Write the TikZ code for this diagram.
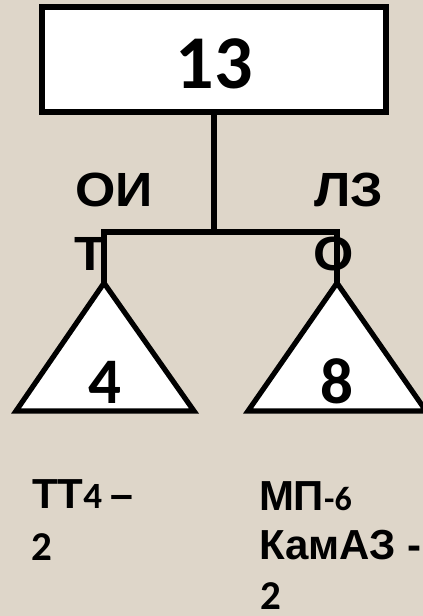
\documentclass[tikz,border=0pt]{standalone}
\usepackage{fontspec}
\setmainfont{Carlito}
\newfontfamily\cyr{Liberation Sans}
\newfontfamily\cyrw[FakeStretch=1.08]{Liberation Sans}
\definecolor{bg}{RGB}{222,214,201}
\tikzset{
  lbl/.style={anchor=base west, inner sep=0pt, outer sep=0pt, font=\bfseries},
  num/.style={anchor=base, inner sep=0pt, outer sep=0pt, font=\bfseries},
  tri/.style={draw=black, fill=white, line width=5.2pt, line join=miter},
  conn/.style={draw=black, line width=5.2pt}
}
\newcommand{\fsz}[1]{\fontsize{#1}{#1}\selectfont}
\begin{document}
\begin{tikzpicture}[x=1pt,y=-1pt]
\useasboundingbox[fill=bg] (0,0) rectangle (423,616);
% top box
\node[draw=black, fill=white, line width=5.2pt, minimum width=344pt, minimum height=105pt, inner sep=0pt] (box) at (214,59.5) {};
\node[num] (n13) at (214,88) {\fsz{76}13};
% branch labels
\node[lbl] (oi) at (75,206) {\cyrw\fsz{48}ОИ};
\node[lbl] (t) at (74,270) {\cyrw\fsz{48}Т};
\node[lbl] (lz) at (314,206) {\cyrw\fsz{48}ЛЗ};
\node[lbl] (o) at (313,270) {\cyrw\fsz{48}О};
% junction coordinates
\coordinate (j) at (214,232);
\coordinate (jl) at (104,232);
\coordinate (jr) at (337,232);
\coordinate (ta) at (104,283);
\coordinate (tb) at (337,283);
% triangles
\draw[tri] (ta) -- (16,411) -- (194,411) -- cycle;
\draw[tri] (tb) -- (248,411) -- (426,411) -- cycle;
% connectors
\draw[conn] (box.south) -- (j);
\draw[conn, line join=miter] (ta) -- (jl) -- (jr) -- (tb);
% triangle numbers
\node[num] (n4) at (105,403) {\fsz{65}4};
\node[num] (n8) at (337,403) {\fsz{65}8};
% bottom texts
\node[lbl] (a1) at (32,508) {{\cyr\fsz{42}ТТ}{\fsz{37}4 }{\cyr\fsz{41}–}};
\node[lbl] (a2) at (31,560) {\fsz{41}2};
\node[lbl] (b1) at (259,510) {{\cyr\fsz{42}МП}{\fsz{34}-6}};
\node[lbl] (b2) at (259,559) {\cyr\fsz{42}КамАЗ -};
\node[lbl] (b3) at (260,609) {\fsz{41}2};
\end{tikzpicture}
\end{document}
